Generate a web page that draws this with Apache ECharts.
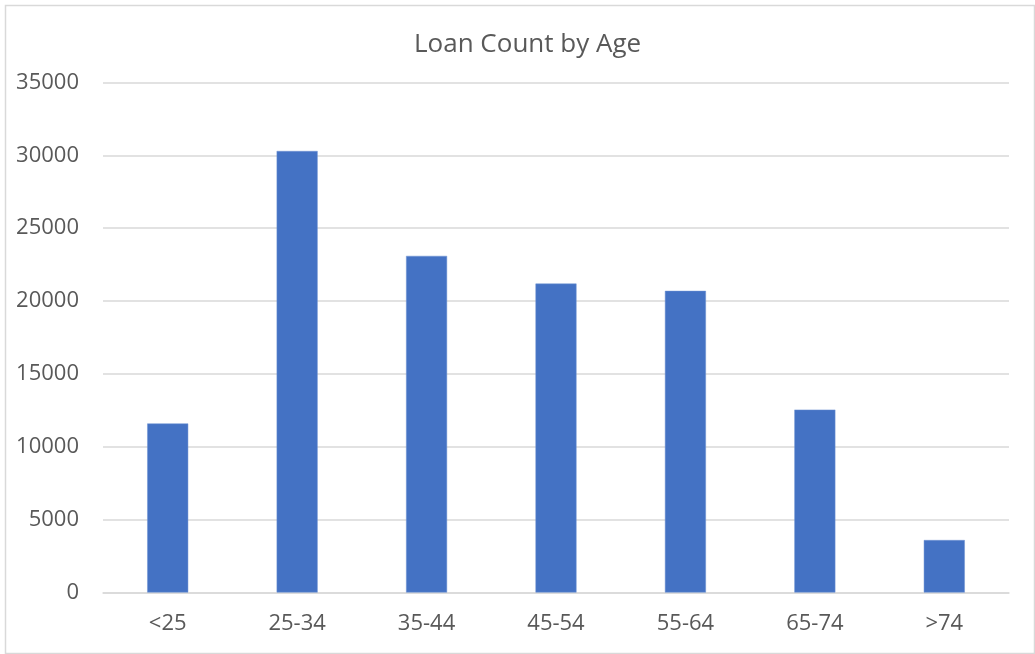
<!DOCTYPE html>
<html>
<head>
<meta charset="utf-8">
<script src="https://cdn.jsdelivr.net/npm/echarts@6/dist/echarts.min.js"></script>
<style>html,body{margin:0;padding:0;background:#fff}#c{width:1035px;height:654px}</style>
</head>
<body>
<div id="c"></div>
<script>
const categories = ['<25', '25-34', '35-44', '45-54', '55-64', '65-74', '>74'];
const loanCounts = [11600, 30300, 23100, 21200, 20700, 12550, 3600];
const yTicks = [0, 5000, 10000, 15000, 20000, 25000, 30000, 35000];

const chart = echarts.init(document.getElementById('c'), null, {renderer: 'canvas'});
const font = '"Open Sans", sans-serif';
chart.setOption({
  animation: false,
  backgroundColor: '#fff',
  graphic: [{
    type: 'rect', left: 3, top: 3, shape: {width: 1029, height: 648},
    style: {fill: 'none', stroke: '#d9d9d9', lineWidth: 1.5}, silent: true
  }],
  title: {
    text: 'Loan Count by Age', left: 409, top: 27,
    textStyle: {fontFamily: font, fontSize: 26, fontWeight: 'normal', color: '#595959'}
  },
  grid: {left: 103, right: 26, top: 82.5, bottom: 61.5, containLabel: false},
  xAxis: {
    type: 'category', data: categories,
    axisLine: {show: true, lineStyle: {color: '#d9d9d9', width: 1.5}},
    axisTick: {show: false},
    axisLabel: {fontFamily: font, fontSize: 22, color: '#595959', margin: 20}
  },
  yAxis: {
    type: 'value', min: yTicks[0], max: yTicks[yTicks.length - 1], interval: 5000,
    axisLine: {show: false}, axisTick: {show: false},
    splitLine: {lineStyle: {color: '#d9d9d9', width: 1.5}},
    axisLabel: {fontFamily: font, fontSize: 22, color: '#595959', margin: 24,
      formatter: v => String(v)}
  },
  series: [{
    type: 'bar', data: loanCounts, barWidth: 41,
    itemStyle: {color: '#4472C4', borderColor: '#6f93d3', borderWidth: 0.5}
  }]
});
</script>
</body>
</html>
